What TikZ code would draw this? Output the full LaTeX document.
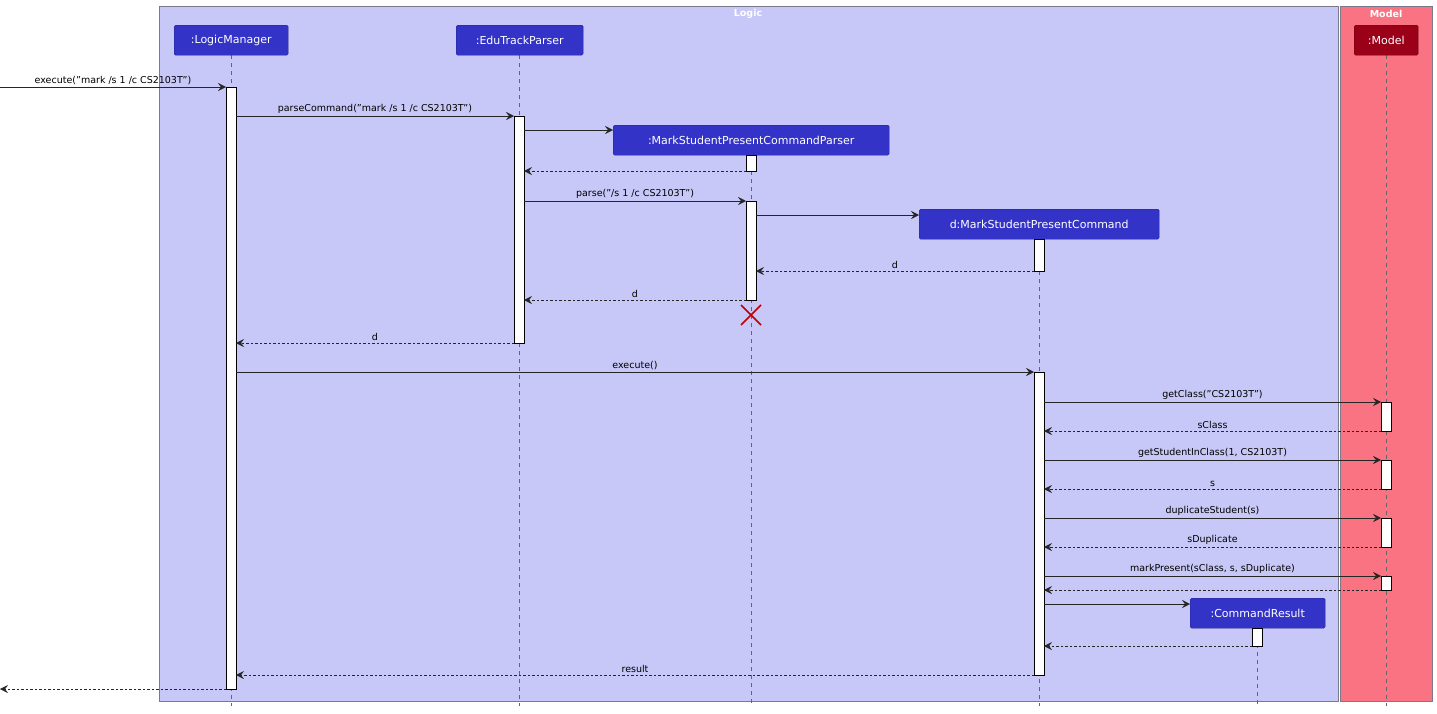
\documentclass[tikz,border=0pt]{standalone}
\usepackage{fontspec}
\setmainfont{DejaVu Sans}
\usetikzlibrary{arrows.meta}
\definecolor{logicbg}{HTML}{C8C8F8}
\definecolor{modelbg}{HTML}{F97383}
\definecolor{partblue}{HTML}{3333C8}
\definecolor{partred}{HTML}{9A0018}
\definecolor{framegray}{HTML}{7A7A8A}
\tikzset{
  part/.style={rectangle,rounded corners=1.5pt,draw=partblue!70!black,fill=partblue,text=white,
    font=\fontsize{11}{13}\selectfont,minimum height=30pt,inner xsep=5pt,anchor=north west},
  life/.style={draw=black!60,dashed,dash pattern=on 4pt off 4pt},
  act/.style={draw=black,fill=white},
  call/.style={draw=black!85,-{Stealth[length=8pt,width=8pt,inset=3pt]}},
  ret/.style={call,densely dashed,dash pattern=on 2.5pt off 2pt},
  lbl/.style={font=\fontsize{9.5}{11}\selectfont,above=-1pt}
}
\begin{document}
\begin{tikzpicture}[x=1pt,y=-1pt]
\useasboundingbox (0,0) rectangle (1437,713);
% boxes
\draw[framegray,fill=logicbg] (159,6) rectangle (1338,701);
\draw[framegray,fill=modelbg] (1340,6) rectangle (1432,701);
\node[text=white,font=\fontsize{9.5}{11}\selectfont\bfseries] (logicttl) at (748,14) {Logic};
\node[text=white,font=\fontsize{9.5}{11}\selectfont\bfseries] (modelttl) at (1386,14) {Model};

% lifelines
\draw[life] (231,55) -- (231,706);
\draw[life] (519,55) -- (519,706);
\draw[life] (751,155) -- (751,706);
\draw[life] (1039,239) -- (1039,706);
\draw[life] (1257,628) -- (1257,706);
\draw[life] (1386,55) -- (1386,706);

% participants
\node[part,minimum width=114pt] (lm) at (174,25) {:LogicManager};
\node[part,minimum width=127pt] (etp) at (456,25) {:EduTrackParser};
\node[part,minimum width=276pt] (mspcp) at (613,125) {:MarkStudentPresentCommandParser};
\node[part,minimum width=240pt] (mspc) at (919,209) {d:MarkStudentPresentCommand};
\node[part,minimum width=135pt] (cr) at (1190,598) {:CommandResult};
\node[part,minimum width=64pt,fill=partred,draw=partred!70!black] (model) at (1354,25) {:Model};

% activations
\draw[act] (226,87) rectangle (236,689);
\draw[act] (514,116) rectangle (524,343);
\draw[act] (746,155) rectangle (756,171);
\draw[act] (746,201) rectangle (756,300);
\draw[act] (1034,239) rectangle (1044,271);
\draw[act] (1034,372) rectangle (1044,675);
\draw[act] (1381,402) rectangle (1391,431);
\draw[act] (1381,460) rectangle (1391,489);
\draw[act] (1381,518) rectangle (1391,547);
\draw[act] (1381,576) rectangle (1391,590);
\draw[act] (1252,628) rectangle (1262,646);

% destroy
\draw[draw=red!75!black,line width=1.5pt] (741,305) -- (761,325) (741,325) -- (761,305);

% messages
\draw[call] (0,87) -- node[lbl,pos=0.5] {execute("mark /s 1 /c CS2103T")} (226,87);
\draw[call] (236,116) -- node[lbl] {parseCommand("mark /s 1 /c CS2103T")} (514,116);
\draw[call] (524,130) -- (mspcp.west |- 0,130);
\draw[ret] (746,171) -- (524,171);
\draw[call] (524,201) -- node[lbl] {parse("/s 1 /c CS2103T")} (746,201);
\draw[call] (756,215) -- (mspc.west |- 0,215);
\draw[ret] (1034,271) -- node[lbl] {d} (756,271);
\draw[ret] (746,300) -- node[lbl] {d} (524,300);
\draw[ret] (514,343) -- node[lbl] {d} (236,343);
\draw[call] (236,372) -- node[lbl] {execute()} (1034,372);
\draw[call] (1044,402) -- node[lbl] {getClass("CS2103T")} (1381,402);
\draw[ret] (1381,431) -- node[lbl] {sClass} (1044,431);
\draw[call] (1044,460) -- node[lbl] {getStudentInClass(1, CS2103T)} (1381,460);
\draw[ret] (1381,489) -- node[lbl] {s} (1044,489);
\draw[call] (1044,518) -- node[lbl] {duplicateStudent(s)} (1381,518);
\draw[ret] (1381,547) -- node[lbl] {sDuplicate} (1044,547);
\draw[call] (1044,576) -- node[lbl] {markPresent(sClass, s, sDuplicate)} (1381,576);
\draw[ret] (1381,590) -- (1044,590);
\draw[call] (1044,604) -- (cr.west |- 0,604);
\draw[ret] (1252,646) -- (1044,646);
\draw[ret] (1034,675) -- node[lbl] {result} (236,675);
\draw[ret] (226,689) -- (0,689);
\end{tikzpicture}
\end{document}
